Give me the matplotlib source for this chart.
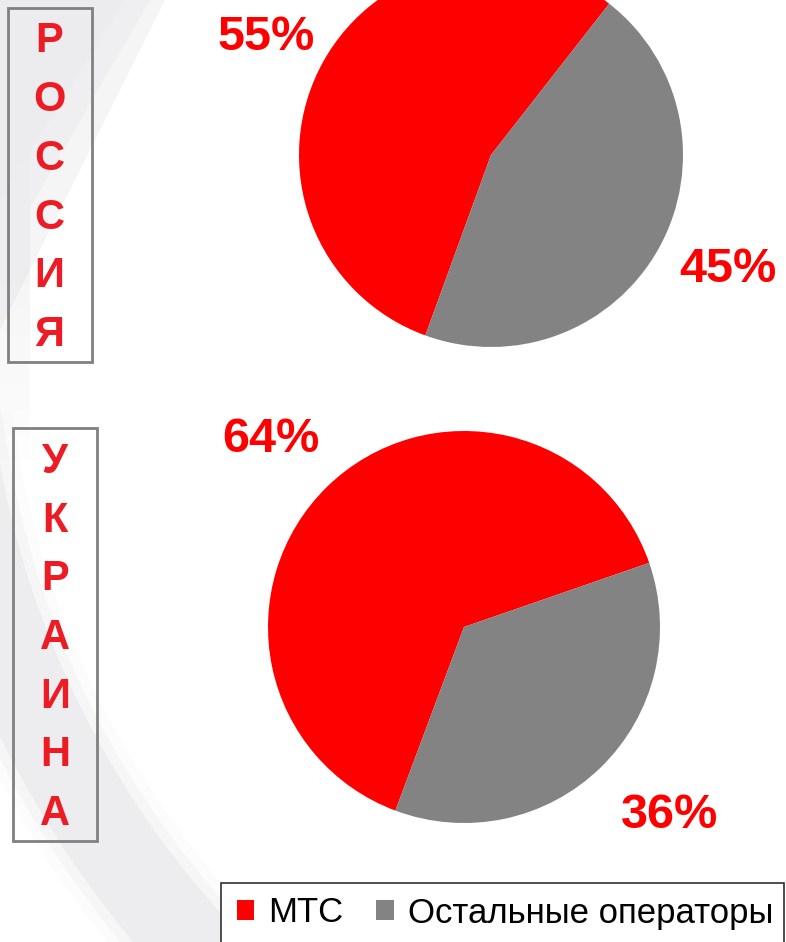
import matplotlib
matplotlib.use("Agg")
import matplotlib.pyplot as plt
from matplotlib.patches import Wedge, Polygon, Rectangle

plt.rcParams['font.family'] = ['Liberation Sans', 'DejaVu Sans']

# ---- data ----
categories = ["МТС", "Остальные операторы"]
russia_values = [55, 45]
ukraine_values = [64, 36]
russia_labels = ["55%", "45%"]
ukraine_labels = ["64%", "36%"]
russia_title = "РОССИЯ"
ukraine_title = "УКРАИНА"
colors = ["#FF0000", "#838383"]

W, H = 786, 942
fig = plt.figure(figsize=(W / 100, H / 100), dpi=100)
ax = fig.add_axes([0, 0, 1, 1])


def Y(y):
    return H - y


# ---- background swooshes ----
for w, a in [(85, 1.0), (105, 0.35), (125, 0.15)]:
    ax.add_patch(Wedge((900, Y(300)), 1000 + (w - 85) / 2, 187, 262, width=w,
                       facecolor="#EDEDF0", edgecolor="none", alpha=a, zorder=0))
for x0, y0, a in [(165, 330, 0.5), (150, 260, 0.6), (125, 200, 0.7), (60, 120, 0.6)]:
    ax.add_patch(Polygon([(0, Y(0)), (x0, Y(0)), (0, Y(y0))], closed=True,
                         facecolor="#ECECEF", edgecolor="none", alpha=a, zorder=0))
for i in range(12):
    h = 460 - i * 25
    ax.add_patch(Rectangle((0, Y(h)), 30, h, facecolor="#EDEDF0",
                           edgecolor="none", alpha=0.07, zorder=0))

# ---- pies ----
wedges_r, _ = ax.pie(russia_values, colors=colors, startangle=250, counterclock=False,
                     center=(491, Y(155)), radius=192,
                     wedgeprops=dict(linewidth=0), frame=True)
ax.pie(ukraine_values, colors=colors, startangle=249.5, counterclock=False,
       center=(464, Y(627)), radius=196,
       wedgeprops=dict(linewidth=0), frame=True)

pct_style = dict(color="#FF0000", fontsize=35, fontweight="bold",
                 ha="center", va="center", zorder=5)
ax.text(266, Y(37), russia_labels[0], **pct_style)
ax.text(728, Y(270), russia_labels[1], **pct_style)
ax.text(271, Y(439), ukraine_labels[0], **pct_style)
ax.text(670, Y(815), ukraine_labels[1], **pct_style)

# ---- vertical country labels ----
letter_style = dict(color="#ED1C24", fontsize=30, fontweight="bold",
                    ha="center", va="center", zorder=5)
ax.add_patch(Rectangle((8, Y(362)), 84, 354, facecolor="none",
                       edgecolor="#808080", linewidth=2, zorder=4))
for i, ch in enumerate(russia_title):
    ax.text(49, Y(41.5 + i * 58.7), ch, **letter_style)

ax.add_patch(Rectangle((13, Y(841)), 84, 413, facecolor="none",
                       edgecolor="#808080", linewidth=2, zorder=4))
for i, ch in enumerate(ukraine_title):
    ax.text(55, Y(462 + i * 58.7), ch, **letter_style)

# ---- legend ----
ax.add_patch(Rectangle((221, Y(970)), 563, 87, facecolor="white",
                       edgecolor="#303030", linewidth=1.2, zorder=6))
leg = ax.legend(wedges_r, categories, loc="center left",
                bbox_to_anchor=(237 / W, Y(913) / H), bbox_transform=ax.transAxes,
                ncol=2, fontsize=25, frameon=False, borderpad=0,
                handlelength=0.5, handleheight=0.5, handletextpad=0.4,
                columnspacing=0.95, borderaxespad=0)
leg.set_zorder(7)

ax.set_xlim(0, W)
ax.set_ylim(0, H)
ax.set_aspect("auto")
ax.set_axis_off()

fig.savefig("out.png", dpi=100, facecolor="white")
